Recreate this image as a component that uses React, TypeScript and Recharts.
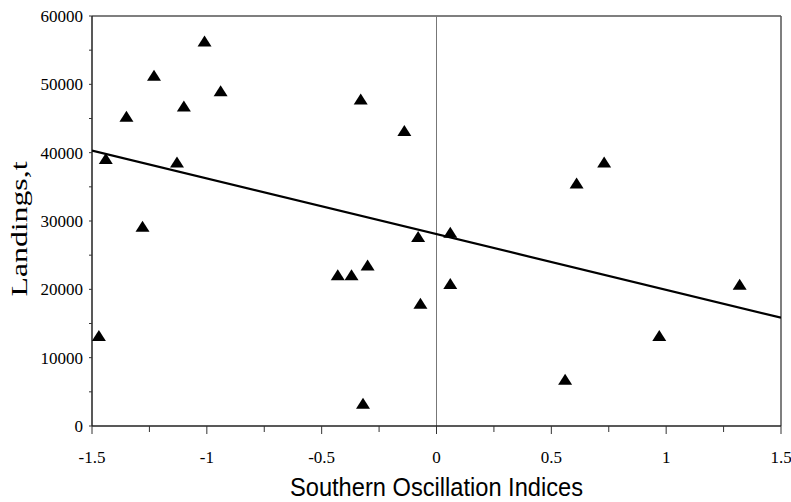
import {
  ReferenceLine,
  Scatter,
  ScatterChart,
  XAxis,
  YAxis,
} from "recharts";

// ── data ────────────────────────────────────────────────────────────────────

const soi = [
  -1.47, -1.44, -1.35, -1.28, -1.23, -1.13, -1.1, -1.01, -0.94, -0.43, -0.37,
  -0.3, -0.32, -0.33, -0.14, -0.08, -0.07, 0.06, 0.06, 0.56, 0.61, 0.73, 0.97,
  1.32,
];
const landings = [
  13100, 39000, 45200, 29100, 51200, 38500, 46700, 56200, 48900, 22000, 22000,
  23400, 3200, 47700, 43100, 27600, 17800, 28200, 20700, 6700, 35400, 38500,
  13100, 20600,
];

// fitted regression line, end points
const trendX = [-1.5, 1.5];
const trendY = [40300, 15850];

const xTicks = [-1.5, -1.25, -1, -0.75, -0.5, -0.25, 0, 0.25, 0.5, 0.75, 1, 1.25, 1.5];
const yTicks = [0, 5000, 10000, 15000, 20000, 25000, 30000, 35000, 40000, 45000, 50000, 55000, 60000];

const points = soi.map((x, i) => ({ x, y: landings[i] }));
const trend = trendX.map((x, i) => ({ x, y: trendY[i] }));

const SERIF = "'Liberation Serif', 'Times New Roman', serif";
const SANS = "'Liberation Sans', Arial, sans-serif";

// ── shapes ──────────────────────────────────────────────────────────────────

function Triangle({ cx = 0, cy = 0 }: { cx?: number; cy?: number }) {
  return (
    <polygon
      points={`${cx},${cy - 6.5} ${cx - 7},${cy + 4.5} ${cx + 7},${cy + 4.5}`}
      fill="#000"
    />
  );
}

function XTick({ x = 0, y = 0, payload }: any) {
  const v = payload?.value as number;
  const major = Math.abs(v * 2 - Math.round(v * 2)) < 1e-6;
  return (
    <g>
      <line x1={x} x2={x} y1={y} y2={y + (major ? 8 : 6)} stroke="#333" strokeWidth={1} />
      {major && (
        <text x={x} y={y + 37} textAnchor="middle" fontFamily={SERIF} fontSize={17} fill="#000">
          {String(v)}
        </text>
      )}
    </g>
  );
}

function YTick({ x = 0, y = 0, payload }: any) {
  const v = payload?.value as number;
  const major = v % 10000 === 0;
  return (
    <g>
      <line x1={x - 3} x2={x} y1={y} y2={y} stroke="#333" strokeWidth={1} />
      {major && (
        <text x={x - 9} y={y} dy="0.35em" textAnchor="end" fontFamily={SERIF} fontSize={17} fill="#000">
          {String(v)}
        </text>
      )}
    </g>
  );
}

// ── App ─────────────────────────────────────────────────────────────────────

export default function App() {
  return (
    <div style={{ position: "absolute", left: 0, top: 0, background: "#fff" }}>
      <ScatterChart width={791} height={502} margin={{ top: 16, right: 10, left: 0, bottom: 0 }}>
        <XAxis
          type="number"
          dataKey="x"
          domain={[-1.5, 1.5]}
          ticks={xTicks}
          allowDataOverflow
          height={76}
          tickSize={0}
          tickMargin={0}
          tickLine={false}
          axisLine={{ stroke: "#222", strokeWidth: 1.5 }}
          tick={<XTick />}
          interval={0}
          label={{
            content: ({ viewBox }: any) => (
              <text
                x={viewBox.x + viewBox.width / 2}
                y={viewBox.y + 70}
                textAnchor="middle"
                fontFamily={SANS}
                fontSize={26}
                textLength={293}
                lengthAdjust="spacingAndGlyphs"
                fill="#000"
              >
                Southern Oscillation Indices
              </text>
            ),
          }}
        />
        <YAxis
          type="number"
          dataKey="y"
          domain={[0, 60000]}
          ticks={yTicks}
          allowDataOverflow
          width={92}
          tickSize={0}
          tickMargin={0}
          tickLine={false}
          axisLine={{ stroke: "#222", strokeWidth: 1.5 }}
          tick={<YTick />}
          interval={0}
          label={{
            content: () => (
              <text
                transform="translate(27, 229) rotate(-90)"
                textAnchor="middle"
                fontFamily={SERIF}
                fontSize={24}
                textLength={135}
                lengthAdjust="spacingAndGlyphs"
                fill="#000"
              >
                Landings,t
              </text>
            ),
          }}
        />
        <ReferenceLine y={60000} stroke="#555" strokeWidth={1.5} />
        <ReferenceLine x={1.5} stroke="#555" strokeWidth={1.5} />
        <ReferenceLine x={0} stroke="#777" strokeWidth={1} />
        <Scatter
          data={trend}
          line={{ stroke: "#000", strokeWidth: 2.2 }}
          shape={() => <g />}
          isAnimationActive={false}
        />
        <Scatter data={points} shape={<Triangle />} isAnimationActive={false} />
      </ScatterChart>
    </div>
  );
}
